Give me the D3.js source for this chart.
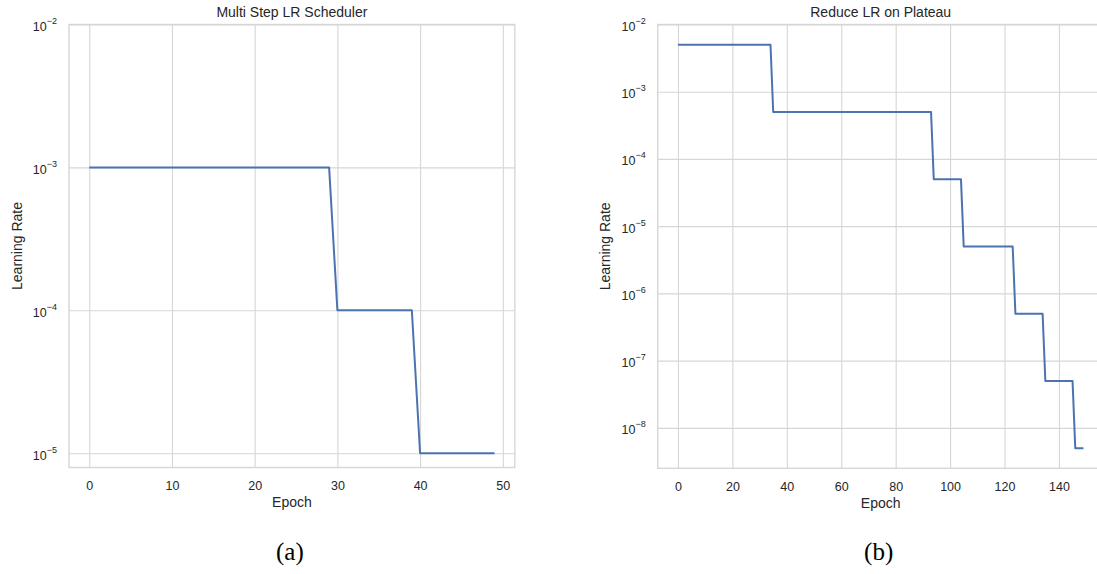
<!DOCTYPE html>
<html>
<head>
<meta charset="utf-8">
<script src="https://cdn.jsdelivr.net/npm/d3@7"></script>
<style>
  html, body { margin: 0; padding: 0; background: #ffffff; }
  svg { display: block; }
</style>
</head>
<body>
<svg id="chart" width="1097" height="574"></svg>
<script>
// ---------- data ----------
// (a) Multi Step LR Scheduler: corner points of the step schedule
const multiStepEpochs = [0, 29, 30, 39, 40, 49];
const multiStepLR     = [1e-3, 1e-3, 1e-4, 1e-4, 1e-5, 1e-5];
const multiStepXTicks = [0, 10, 20, 30, 40, 50];
const multiStepYTicks = [-2, -3, -4, -5];          // exponents of 10

// (b) Reduce LR on Plateau: corner points of the step schedule
const plateauEpochs = [0, 34, 35, 93, 94, 104, 105, 123, 124, 134, 135, 145, 146, 149];
const plateauLR     = [5e-3, 5e-3, 5e-4, 5e-4, 5e-5, 5e-5, 5e-6, 5e-6, 5e-7, 5e-7, 5e-8, 5e-8, 5e-9, 5e-9];
const plateauXTicks = [0, 20, 40, 60, 80, 100, 120, 140];
const plateauYTicks = [-2, -3, -4, -5, -6, -7, -8];

const titles   = ["Multi Step LR Scheduler", "Reduce LR on Plateau"];
const captions = ["(a)", "(b)"];
const xLabel = "Epoch";
const yLabel = "Learning Rate";

// ---------- style ----------
const FONT = "'Liberation Sans', Arial, 'DejaVu Sans', sans-serif";
const TEXT = "#262626";
const GRID = "#d6d6d6";
const LINE = "#4c72b0";

const svg = d3.select("#chart");

function drawPanel(cfg) {
  const g = svg.append("g");
  const pts = cfg.epochs.map((e, i) => ({ e: e, lr: cfg.lr[i] }));

  // matplotlib-like 5% margins on x
  const ex = d3.extent(cfg.epochs);
  const pad = (ex[1] - ex[0]) * 0.05;
  const x = d3.scaleLinear().domain([ex[0] - pad, ex[1] + pad]).range([cfg.left, cfg.right]);
  const y = d3.scaleLog().domain(cfg.yDomain).range([cfg.bottom, cfg.top]);

  // x grid + labels
  const xa = g.append("g")
    .attr("transform", `translate(0,${cfg.bottom})`)
    .call(d3.axisBottom(x).tickValues(cfg.xTicks).tickSize(-(cfg.bottom - cfg.top)).tickPadding(13.5).tickFormat(d3.format("d")));
  xa.select(".domain").remove();
  xa.selectAll("line").attr("stroke", GRID).attr("stroke-width", 1.1);
  xa.selectAll("text").attr("fill", TEXT).style("font-family", FONT).style("font-size", "12.5px");

  // y grid + labels
  const ya = g.append("g")
    .attr("transform", `translate(${cfg.left},0)`)
    .call(d3.axisLeft(y).tickValues(cfg.yTicks.map(k => Math.pow(10, k))).tickSize(-(cfg.right - cfg.left)).tickPadding(12).tickFormat(() => ""));
  ya.select(".domain").remove();
  ya.selectAll("line").attr("stroke", GRID).attr("stroke-width", 1.1);
  ya.selectAll(".tick text").each(function(d) {
    const t = d3.select(this);
    const k = Math.round(Math.log10(d));
    t.attr("dy", null).attr("y", 6).attr("text-anchor", "end")
     .attr("fill", TEXT).style("font-family", FONT).style("font-size", "12.5px");
    t.text(null);
    t.append("tspan").text("10");
    t.append("tspan").attr("dy", -7).style("font-size", "9px").text("\u2212" + Math.abs(k));
  });

  // line
  g.append("path")
    .datum(pts)
    .attr("fill", "none")
    .attr("stroke", LINE)
    .attr("stroke-width", 2)
    .attr("stroke-linejoin", "round")
    .attr("d", d3.line().x(d => x(d.e)).y(d => y(d.lr)));

  // spines
  g.append("rect")
    .attr("x", cfg.left).attr("y", cfg.top)
    .attr("width", cfg.right - cfg.left).attr("height", cfg.bottom - cfg.top)
    .attr("fill", "none").attr("stroke", GRID).attr("stroke-width", 1.4);

  const cx = (cfg.left + cfg.right) / 2;
  const cy = (cfg.top + cfg.bottom) / 2;

  // title
  g.append("text").attr("x", cx).attr("y", 17).attr("text-anchor", "middle")
    .attr("fill", TEXT).style("font-family", FONT).style("font-size", "14px").text(cfg.title);
  // x label
  g.append("text").attr("x", cx).attr("y", cfg.bottom + 39.5).attr("text-anchor", "middle")
    .attr("fill", TEXT).style("font-family", FONT).style("font-size", "14px").text(xLabel);
  // y label
  g.append("text").attr("transform", `translate(${cfg.left - 47.5},${cy}) rotate(-90)`)
    .attr("text-anchor", "middle")
    .attr("fill", TEXT).style("font-family", FONT).style("font-size", "14px").text(yLabel);
  // caption
  g.append("text").attr("x", cx - 2).attr("y", 560).attr("text-anchor", "middle")
    .attr("fill", "#000").style("font-family", "'Liberation Serif', 'DejaVu Serif', serif").style("font-size", "25px")
    .text(cfg.caption);
}

drawPanel({
  epochs: multiStepEpochs, lr: multiStepLR,
  xTicks: multiStepXTicks, yTicks: multiStepYTicks,
  yDomain: [Math.pow(10, -5.1), 1e-2],
  left: 69, right: 514.8, top: 24.5, bottom: 467.5,
  title: titles[0], caption: captions[0]
});

drawPanel({
  epochs: plateauEpochs, lr: plateauLR,
  xTicks: plateauXTicks, yTicks: plateauYTicks,
  yDomain: [Math.pow(10, -8.601), Math.pow(10, -2.001)],
  left: 657.7, right: 1103.7, top: 24.5, bottom: 468.3,
  title: titles[1], caption: captions[1]
});
</script>
</body>
</html>
